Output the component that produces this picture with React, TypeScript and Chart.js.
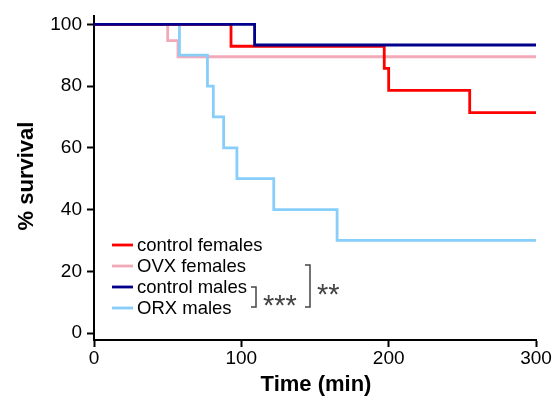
import React, { useEffect, useRef } from "react";
import { Chart, registerables } from "chart.js";

Chart.register(...registerables);

const seriesNames = ["control females", "OVX females", "control males", "ORX males"];
const seriesColors = ["#ff0000", "#f2a9b8", "#00008b", "#87cefa"];

const controlFemalesTime = [0, 93, 197, 200, 255, 300];
const controlFemalesSurvival = [100, 92.9, 85.7, 78.6, 71.4, 71.4];

const ovxFemalesTime = [0, 50, 57, 300];
const ovxFemalesSurvival = [100, 94.7, 89.5, 89.5];

const controlMalesTime = [0, 109, 300];
const controlMalesSurvival = [100, 93.3, 93.3];

const orxMalesTime = [0, 58, 77, 81, 88, 97, 122, 165, 300];
const orxMalesSurvival = [100, 90, 80, 70, 60, 50, 40, 30, 30];

const xTicks = [0, 100, 200, 300];
const yTicks = [0, 20, 40, 60, 80, 100];

const FONT = '"Liberation Sans", Arial, sans-serif';

function pts(t: number[], s: number[]) {
  return t.map((x, i) => ({ x, y: s[i] }));
}

const overlayPlugin = {
  id: "overlay",
  afterDraw(chart: any) {
    const ctx = chart.ctx as CanvasRenderingContext2D;
    ctx.save();
    // axis titles
    ctx.fillStyle = "#000";
    ctx.font = `bold 22px ${FONT}`;
    ctx.textAlign = "center";
    ctx.textBaseline = "alphabetic";
    ctx.fillText("Time (min)", 316, 391);
    ctx.save();
    ctx.translate(33, 176);
    ctx.rotate(-Math.PI / 2);
    ctx.fillText("% survival", 0, 0);
    ctx.restore();

    // legend
    const swatchY = [245, 266, 287, 308];
    const baseY = [251, 272, 293, 313.5];
    ctx.font = `18.5px ${FONT}`;
    ctx.textAlign = "left";
    for (let i = 0; i < seriesNames.length; i++) {
      ctx.strokeStyle = seriesColors[i];
      ctx.lineWidth = 2.8;
      ctx.beginPath();
      ctx.moveTo(112, swatchY[i]);
      ctx.lineTo(133, swatchY[i]);
      ctx.stroke();
      ctx.fillStyle = "#000";
      ctx.fillText(seriesNames[i], 137, baseY[i]);
    }

    // significance brackets
    ctx.strokeStyle = "#444";
    ctx.lineWidth = 1.5;
    ctx.beginPath();
    ctx.moveTo(251, 287);
    ctx.lineTo(256, 287);
    ctx.lineTo(256, 307);
    ctx.lineTo(251, 307);
    ctx.stroke();
    ctx.beginPath();
    ctx.moveTo(305, 265);
    ctx.lineTo(310, 265);
    ctx.lineTo(310, 307);
    ctx.lineTo(305, 307);
    ctx.stroke();
    ctx.fillStyle = "#444";
    ctx.font = `29px ${FONT}`;
    ctx.textAlign = "left";
    ctx.fillText("***", 263, 314.5);
    ctx.fillText("**", 317, 304);
    ctx.restore();
  },
};

export default function App() {
  const ref = useRef<HTMLCanvasElement | null>(null);
  useEffect(() => {
    if (!ref.current) return;
    const common = {
      fill: false,
      stepped: "before" as const,
      borderWidth: 2.8,
      pointRadius: 0,
      pointHoverRadius: 0,
      tension: 0,
    };
    const chart = new Chart(ref.current, {
      type: "line",
      data: {
        datasets: [
          { ...common, label: seriesNames[2], data: pts(controlMalesTime, controlMalesSurvival), borderColor: seriesColors[2] },
          { ...common, label: seriesNames[0], data: pts(controlFemalesTime, controlFemalesSurvival), borderColor: seriesColors[0] },
          { ...common, label: seriesNames[3], data: pts(orxMalesTime, orxMalesSurvival), borderColor: seriesColors[3] },
          { ...common, label: seriesNames[1], data: pts(ovxFemalesTime, ovxFemalesSurvival), borderColor: seriesColors[1] },
        ],
      },
      options: {
        animation: false,
        responsive: true,
        maintainAspectRatio: false,
        layout: { padding: { top: 13, right: 20, left: 0, bottom: 0 } },
        plugins: { legend: { display: false }, tooltip: { enabled: false } },
        scales: {
          x: {
            type: "linear",
            min: 0,
            max: 300,
            afterBuildTicks: (s: any) => {
              s.ticks = xTicks.map((v) => ({ value: v }));
            },
            afterFit: (s: any) => {
              s.height = 58;
            },
            grid: { display: true, drawOnChartArea: false, drawTicks: true, tickLength: 7, tickWidth: 2, color: "#000" },
            border: { display: true, color: "#000", width: 2 },
            ticks: { color: "#000", font: { family: FONT, size: 19 }, padding: 0, maxRotation: 0 },
          },
          y: {
            type: "linear",
            min: -2.24,
            max: 102.56,
            afterBuildTicks: (s: any) => {
              s.ticks = yTicks.map((v) => ({ value: v }));
            },
            afterFit: (s: any) => {
              s.width = 94;
            },
            grid: { display: true, drawOnChartArea: false, drawTicks: true, tickLength: 7, tickWidth: 2, color: "#000" },
            border: { display: true, color: "#000", width: 2 },
            ticks: { color: "#000", font: { family: FONT, size: 19 }, padding: 5 },
          },
        },
      },
      plugins: [overlayPlugin],
    });
    return () => chart.destroy();
  }, []);
  return (
    <div style={{ position: "absolute", left: 0, top: 0, width: 556, height: 398, background: "#fff" }}>
      <canvas ref={ref} />
    </div>
  );
}
